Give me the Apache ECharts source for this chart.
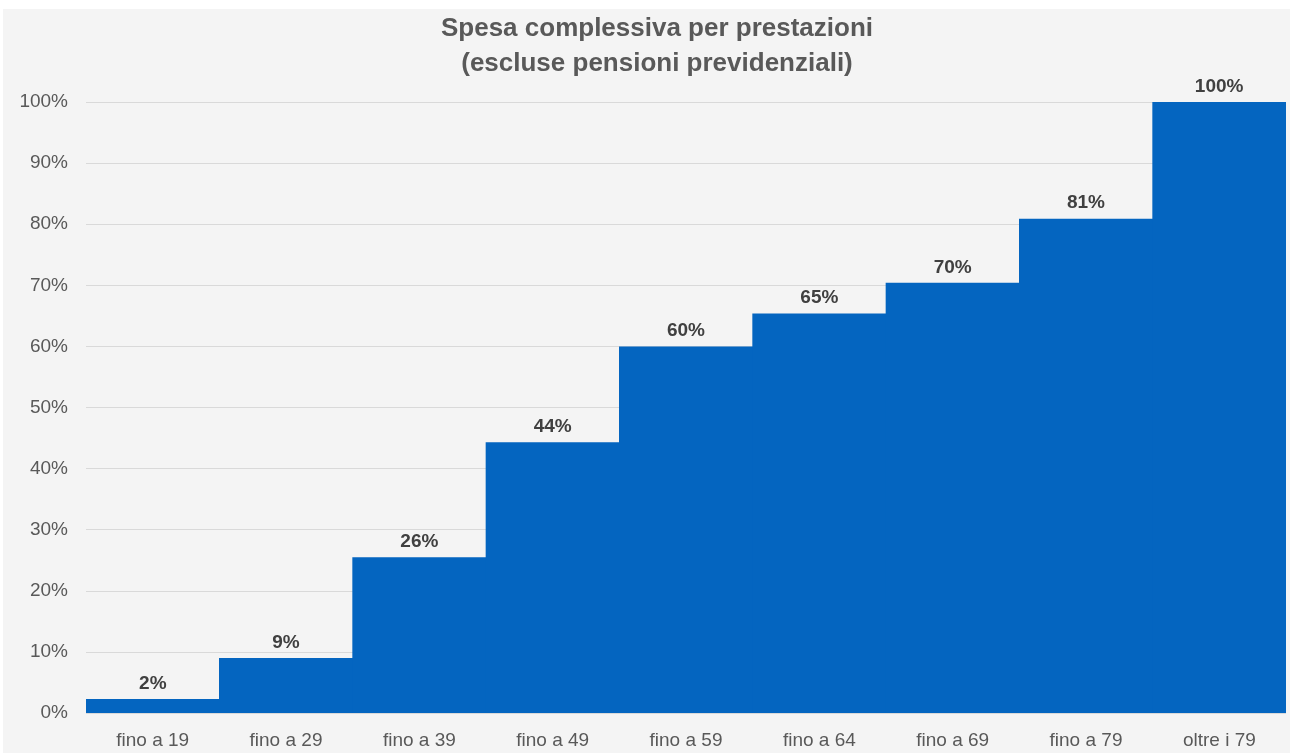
<!DOCTYPE html>
<html>
<head>
<meta charset="utf-8">
<script src="https://cdn.jsdelivr.net/npm/echarts@6/dist/echarts.min.js"></script>
<style>
  html, body { margin: 0; padding: 0; background: #ffffff; }
  #chart { position: absolute; left: 3px; top: 9px; width: 1287px; height: 744px; background: #f4f4f4; }
</style>
</head>
<body>
<div id="chart"></div>
<script>
const categories = ['fino a 19', 'fino a 29', 'fino a 39', 'fino a 49', 'fino a 59', 'fino a 64', 'fino a 69', 'fino a 79', 'oltre i 79']
const values = [2.3, 9, 25.5, 44.3, 60, 65.4, 70.4, 80.9, 100]
const yTicks = [0, 10, 20, 30, 40, 50, 60, 70, 80, 90, 100]

const font = '"Liberation Sans", Arial, sans-serif'
const myChart = echarts.init(document.getElementById('chart'))

const option = {
  animation: false,
  title: {
    text: 'Spesa complessiva per prestazioni\n(escluse pensioni previdenziali)',
    left: 649,
    textAlign: 'center',
    top: -3,
    textStyle: {
      fontFamily: font,
      fontSize: 26,
      fontWeight: 'bold',
      color: '#595959',
      lineHeight: 35,
    },
  },
  grid: {
    left: 83,
    right: 4,
    top: 93,
    bottom: 40,
  },
  xAxis: {
    type: 'category',
    data: categories,
    axisLine: { show: false },
    axisTick: { show: false },
    axisLabel: {
      fontFamily: font,
      fontSize: 19,
      color: '#595959',
      margin: 18,
    },
  },
  yAxis: {
    type: 'value',
    min: yTicks[0],
    max: yTicks[yTicks.length - 1],
    interval: 10,
    axisLine: { show: false },
    axisTick: { show: false },
    axisLabel: {
      fontFamily: font,
      fontSize: 19,
      color: '#595959',
      margin: 18,
      formatter: (v) => v + '%',
    },
    splitLine: { lineStyle: { color: '#d9d9d9', width: 1 } },
  },
  series: [
    {
      type: 'bar',
      data: values,
      barWidth: 134,
      itemStyle: { color: '#0465c0' },
      label: {
        show: true,
        position: 'top',
        distance: 6,
        fontFamily: font,
        fontSize: 19,
        fontWeight: 'bold',
        color: '#404040',
        formatter: (p) => Math.round(p.value) + '%',
      },
    },
  ],
}

myChart.setOption(option)
window.addEventListener('resize', () => {
  myChart.resize()
})
</script>
</body>
</html>
